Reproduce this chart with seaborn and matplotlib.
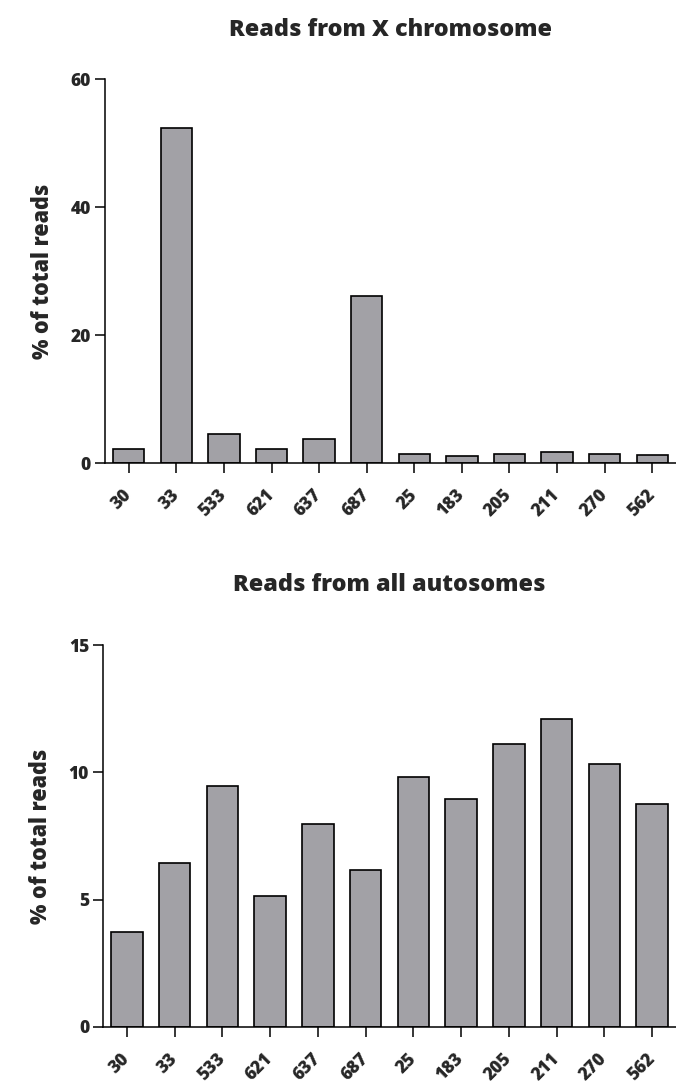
import matplotlib
matplotlib.use("Agg")
import matplotlib.pyplot as plt
import seaborn as sns
import pandas as pd

# strain labels (same order in both panels)
strains = ["30", "33", "533", "621", "637", "687", "25", "183", "205", "211", "270", "562"]

# % of total reads
x_reads = [2.2, 52.3, 4.5, 2.2, 3.8, 26.2, 1.45, 1.15, 1.5, 1.75, 1.45, 1.25]
auto_reads = [3.74, 6.44, 9.46, 5.14, 7.96, 6.18, 9.83, 8.94, 11.12, 12.1, 10.34, 8.74]

sns.set_style("ticks")
plt.rcParams["font.family"] = ["Open Sans", "DejaVu Sans"]
plt.rcParams["font.weight"] = 800

bar_color = "#a2a1a6"
wt = 800

fig = plt.figure(figsize=(6.76, 10.81), dpi=100)
ax1 = fig.add_axes([0.1553, 0.5714, 0.8447, 0.3555])
ax2 = fig.add_axes([0.1524, 0.0500, 0.8476, 0.3533])

panels = [
    (ax1, x_reads, "Reads from X chromosome", 60, [0, 20, 40, 60], 31),
    (ax2, auto_reads, "Reads from all autosomes", 15, [0, 5, 10, 15], 39),
]

for ax, vals, title, ymax, yt, tpad in panels:
    df = pd.DataFrame({"strain": strains, "pct": vals})
    sns.barplot(data=df, x="strain", y="pct", ax=ax, color=bar_color,
                saturation=1, width=0.66, edgecolor="black", linewidth=1.2)
    ax.set_xlim(-0.5, 11.5)
    ax.set_ylim(0, ymax)
    ax.set_yticks(yt)
    ax.set_xlabel("")
    ax.set_ylabel("% of total reads", fontsize=15.5, fontweight=wt, labelpad=11)
    ax.set_title(title, fontsize=16.8, fontweight=wt, pad=tpad)
    ax.set_xticks(range(len(strains)))
    ax.set_xticklabels(strains, rotation=45, ha="right", va="center",
                       rotation_mode="anchor", fontsize=12.5, fontweight=wt)
    for lab in ax.get_yticklabels():
        lab.set_fontsize(12.5)
        lab.set_fontweight(wt)
    ax.tick_params(axis="x", length=7, width=1.1, pad=14, color="black")
    ax.tick_params(axis="y", length=7, width=1.1, pad=3, color="black")
    sns.despine(ax=ax)
    for side in ["left", "bottom"]:
        ax.spines[side].set_linewidth(1.1)
        ax.spines[side].set_color("black")

fig.savefig("out.png", dpi=100)
